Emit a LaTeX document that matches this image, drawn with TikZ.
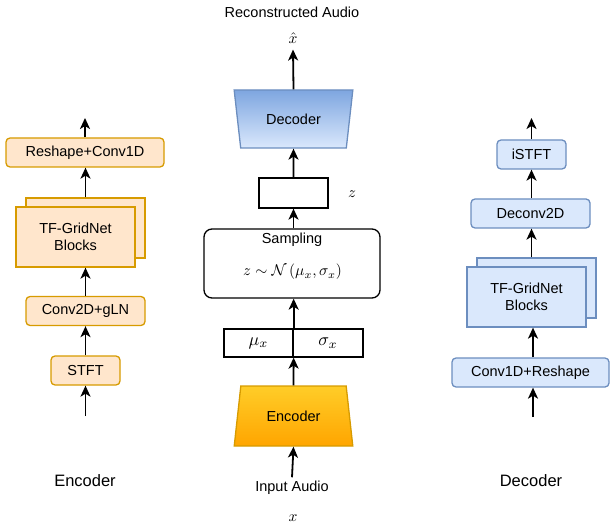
\RequirePackage{fix-cm}
\documentclass[tikz,border=0pt]{standalone}
\usepackage{fontspec}
\setmainfont{Liberation Sans}
\usepackage{amsmath}
\usetikzlibrary{shapes.geometric}
\usetikzlibrary{arrows.meta}
\usetikzlibrary{positioning}

\definecolor{encfill}{HTML}{FFE6CC}
\definecolor{encline}{HTML}{D79B00}
\definecolor{decfill}{HTML}{DAE8FC}
\definecolor{decline}{HTML}{6C8EBF}
\definecolor{enctop}{HTML}{FFCD28}
\definecolor{encbot}{HTML}{FFA500}
\definecolor{dectop}{HTML}{7EA6E0}

\begin{document}
\begin{tikzpicture}[>={Stealth[length=11pt,width=10pt,inset=3pt]}, x=10pt, y=-10pt,
    line width=1.3pt,
    flow/.style={->, line width=1.8pt},
    txt/.style={font=\fontsize{14.5}{17}\selectfont},
    mtxt/.style={font=\fontsize{10}{12}\selectfont, scale=1.55},
    bigtxt/.style={font=\fontsize{16.5}{19}\selectfont},
    encbox/.style={txt, draw=encline, fill=encfill, rounded corners=4pt,
      minimum height=29pt, inner sep=0pt},
    decbox/.style={txt, draw=decline, fill=decfill, rounded corners=4pt,
      minimum height=29pt, inner sep=0pt},
    stackbox/.style={txt, align=center, minimum width=119pt,
      minimum height=60pt, inner sep=0pt},
    plainbox/.style={draw=black, minimum height=29pt, inner sep=0pt}]

      \useasboundingbox (0,0) rectangle (61,52.9);

      % encoder (left)
      \node [encbox, minimum width=158pt] (eresh) at (8.5, 15.25) {Reshape+Conv1D};
      \node [stackbox, draw=encline, fill=encfill] (egridb) at (8.55, 22.8) {};
      \node [stackbox, draw=encline, fill=encfill] (egridf) at (7.55, 23.7)
      {TF-GridNet\\Blocks};
      \node [encbox, minimum width=119pt] (econv) at (8.55, 31.1) {Conv2D+gLN};
      \node [encbox, minimum width=69pt] (estft) at (8.55, 37.05) {STFT};
      \node [bigtxt] (elbl) at (8.5, 48.1) {Encoder};
      \coordinate (ein) at (8.55, 41.6);
      \coordinate (eout) at (8.5, 11.8);

      \draw [flow] (ein) -- (estft);
      \draw [flow] (estft) -- (econv);
      \draw [flow] (econv.north) -- (econv.north |- egridf.south);
      \draw [flow] (egridb.north) -- (egridb.north |- eresh.south);
      \draw [flow] (eresh.north) -- (eout);

      % vae (middle)
      \node [txt] (outlbl) at (29.2, 1.2) {Reconstructed Audio};
      \node [mtxt] (xhat) at (29.3, 3.8) {$\hat{x}$};
      \node [trapezium, trapezium stretches=true, trapezium angle=72.3,
      shape border rotate=180, minimum width=119pt, minimum height=58pt,
      inner sep=0pt, draw=decline, top color=dectop, bottom color=decfill,
      txt] (dec) at (29.35, 11.9) {Decoder};
      \node [plainbox, minimum width=69pt, minimum height=30pt] (zbox) at (29.35, 19.3) {};
      \node [mtxt] (zlbl) at (35.2, 19.4) {$z$};
      \node [draw=black, rounded corners=8pt, minimum width=176pt,
      minimum height=69pt, inner sep=0pt] (samp) at (29.2, 26.35) {};
      \node [txt] (samplbl) at (29.2, 24.0) {Sampling};
      \node [mtxt] (sampeq) at (29.25, 27.2)
      {$z \sim \mathcal{N}\left(\mu_x, \sigma_x\right)$};
      \node [plainbox, minimum width=69pt, minimum height=28pt] (mu) at (25.85, 34.3) {};
      \node [plainbox, minimum width=70pt, minimum height=28pt] (sig) at (32.8, 34.3) {};
      \node [mtxt, scale=1.15] (mulbl) at (mu) {$\mu_x$};
      \node [mtxt, scale=1.15] (siglbl) at (sig) {$\sigma_x$};
      \node [trapezium, trapezium stretches=true, trapezium angle=72.3,
      minimum width=119pt, minimum height=60pt, inner sep=0pt,
      draw=encline, top color=enctop, bottom color=encbot,
      txt] (enc) at (29.35, 41.6) {Encoder};
      \node [txt] (inlbl) at (29.2, 48.8) {Input Audio};
      \node [mtxt] (xin) at (29.3, 51.8) {$x$};

      \draw [flow] (inlbl.north) -- (enc.south |- enc.south);
      \draw [flow] (enc.north) -- (mu.south east);
      \draw [flow] (mu.north east) -- (mu.north east |- samp.south);
      \draw [flow] (samp.north -| zbox.south) -- (zbox.south);
      \draw [flow] (zbox.north) -- (dec.south);
      \draw [flow] (dec.north) -- (xhat.south);

      % decoder (right)
      \node [decbox, minimum width=69pt] (distft) at (53.15, 15.45) {iSTFT};
      \node [decbox, minimum width=119pt] (ddeconv) at (53.05, 21.35) {Deconv2D};
      \node [stackbox, draw=decline, fill=decfill] (dgridb) at (53.65, 28.8) {};
      \node [stackbox, draw=decline, fill=decfill] (dgridf) at (52.65, 29.7)
      {TF-GridNet\\Blocks};
      \node [decbox, minimum width=157pt] (dconv) at (53.05, 37.25) {Conv1D+Reshape};
      \node [bigtxt] (dlbl) at (53.1, 48.1) {Decoder};
      \coordinate (din) at (53.3, 41.7);
      \coordinate (dout) at (53.15, 11.8);

      \draw [flow] (din) -- (din |- dconv.south);
      \draw [flow] (dconv.north -| din) -- (din |- dgridf.south);
      \draw [flow] (dgridb.north -| distft) -- (distft |- ddeconv.south);
      \draw [flow] (ddeconv.north -| distft) -- (distft.south);
      \draw [flow] (distft.north) -- (dout);

\end{tikzpicture}
\end{document}
